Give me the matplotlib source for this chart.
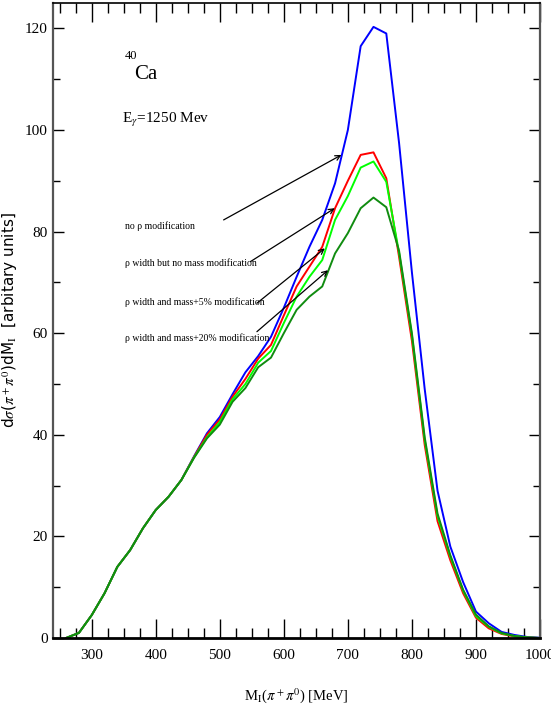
import matplotlib
matplotlib.use("Agg")
import matplotlib.pyplot as plt
from matplotlib.ticker import MultipleLocator

plt.rcParams['font.family'] = ['Liberation Serif', 'DejaVu Serif']
plt.rcParams['mathtext.fontset'] = 'stix'

# invariant mass grid [MeV]
mass = [260, 280, 300, 320, 340, 360, 380, 400, 420, 440, 460, 480, 500, 520,
        540, 560, 580, 600, 620, 640, 660, 680, 700, 720, 740, 760, 780, 800,
        820, 840, 860, 880, 900, 920, 940, 960, 980, 1000]

no_mod = [0, 1.0, 4.5, 8.8, 14.0, 17.3, 21.6, 25.2, 27.8, 31.1, 35.8, 40.3, 43.5, 48.0,
          52.3, 55.5, 59.3, 65.0, 71.1, 77.0, 82.3, 89.5, 100.0, 116.5, 120.3, 119.0, 97.4, 72.0,
          49.0, 29.0, 18.0, 11.0, 5.2, 2.9, 1.2, 0.6, 0.2, 0.05]

width_no_mass = [0, 1.0, 4.5, 8.8, 14.0, 17.3, 21.6, 25.2, 27.8, 31.1, 35.7, 40.0, 43.0, 47.5,
                 51.0, 55.0, 57.7, 63.5, 69.2, 73.1, 77.0, 84.6, 90.0, 95.1, 95.6, 90.5, 75.0, 58.5,
                 38.0, 23.0, 15.3, 8.8, 4.0, 1.9, 0.8, 0.3, 0.1, 0.0]

width_mass5 = [0, 1.0, 4.5, 8.8, 14.0, 17.3, 21.6, 25.2, 27.8, 31.1, 35.6, 39.5, 42.5, 47.0,
               50.0, 54.2, 56.5, 62.0, 67.2, 71.1, 74.4, 82.3, 87.0, 92.6, 93.8, 89.8, 75.8, 59.6,
               39.0, 24.0, 16.0, 9.3, 4.3, 2.2, 0.9, 0.4, 0.1, 0.0]

width_mass20 = [0, 1.0, 4.5, 8.8, 14.0, 17.3, 21.6, 25.2, 27.8, 31.1, 35.5, 39.3, 42.0, 46.5,
                49.2, 53.3, 55.2, 60.0, 64.6, 67.2, 69.2, 75.7, 79.7, 84.6, 86.7, 84.8, 76.2, 60.0,
                39.5, 24.5, 16.3, 9.5, 4.6, 2.3, 1.0, 0.4, 0.1, 0.0]

labels = ["no \u03c1 modification",
          "\u03c1 width but no mass modification",
          "\u03c1 width and mass+5% modification",
          "\u03c1 width and mass+20% modification"]
label_pos = [(352, 81.1), (352, 73.8), (352, 66.1), (352, 59.1)]
arrow_start = [(506, 82.3), (548, 74.1), (558, 65.9), (558, 60.3)]
arrow_end = [(690, 95.1), (679.5, 84.6), (664, 76.7), (669, 72.4)]

fig = plt.figure(figsize=(5.51, 7.13), dpi=100)
ax = fig.add_axes([0.0967, 0.1052, 0.8833, 0.8906])

ax.plot(mass, no_mod, color='#0000ff', lw=1.4)
ax.plot(mass, width_no_mass, color='#ff0000', lw=1.4)
ax.plot(mass, width_mass5, color='#00ff00', lw=1.4)
ax.plot(mass, width_mass20, color='#108c10', lw=1.4)

ax.set_xlim(240, 1000)
ax.set_ylim(0, 125)
ax.xaxis.set_major_locator(MultipleLocator(100))
ax.xaxis.set_minor_locator(MultipleLocator(25))
ax.yaxis.set_major_locator(MultipleLocator(20))
ax.yaxis.set_minor_locator(MultipleLocator(10))

ax.tick_params(axis='x', which='major', direction='in', length=14, width=1, top=True, labelsize=11, pad=8)
ax.tick_params(axis='x', which='minor', direction='in', length=7, width=1, top=True)
ax.tick_params(axis='y', which='major', direction='in', length=8, width=1, right=True, labelsize=11, pad=4)
ax.tick_params(axis='y', which='minor', direction='in', length=5, width=1, right=True)

for s in ['left', 'right']:
    ax.spines[s].set_color('#555555')
    ax.spines[s].set_linewidth(1.6)
ax.spines['top'].set_linewidth(1.2)
ax.spines['bottom'].set_linewidth(2.0)

for txt, (x, y) in zip(labels, label_pos):
    ax.text(x, y, txt, fontsize=7, ha='left', va='center')
for (x0, y0), (x1, y1) in zip(arrow_start, arrow_end):
    ax.annotate('', xy=(x1, y1), xytext=(x0, y0),
                arrowprops=dict(arrowstyle='->', color='black', lw=0.9,
                                shrinkA=0, shrinkB=0, mutation_scale=9))

ax.text(367, 111.0, 'Ca', fontsize=15, ha='left', va='center')
ax.text(352, 114.5, '40', fontsize=9, ha='left', va='center')
ax.text(348, 102, r'E$_\gamma$=1250 Mev', fontsize=11, ha='left', va='center')

ax.set_xlabel(r'M$_\mathrm{I}$($\pi^+\pi^0$) [MeV]', fontsize=10.5)
ax.xaxis.set_label_coords(0.5, -0.075)
ax.set_ylabel(r'd$\sigma$($\pi^+\pi^0$)dM$_\mathrm{I}$  [arbitary units]', fontsize=11,
              family=['DejaVu Sans'])
ax.yaxis.set_label_coords(-0.068, 0.5)

fig.savefig('out.png', dpi=100)
